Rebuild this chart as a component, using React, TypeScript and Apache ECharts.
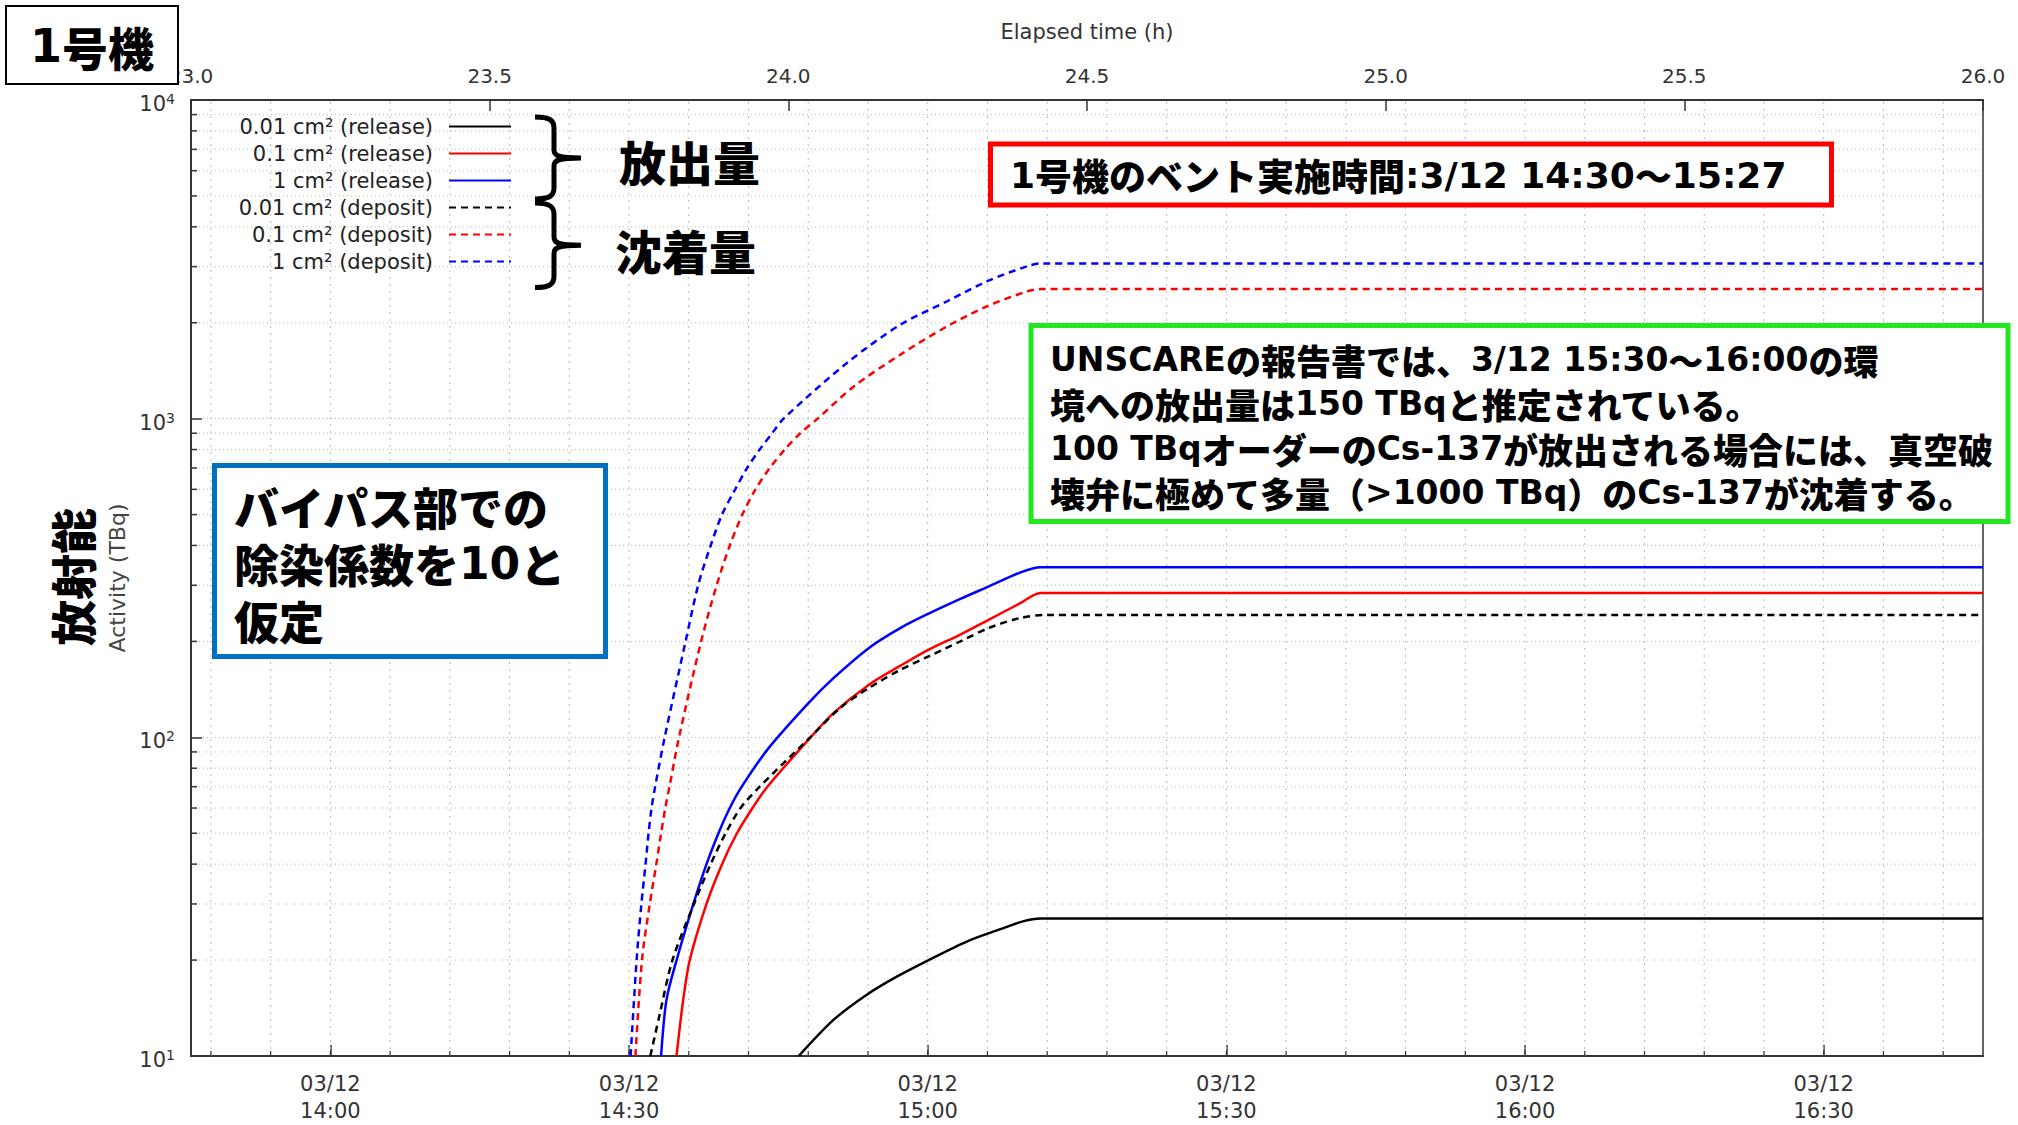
import React, { useEffect, useRef } from 'react';
import * as echarts from 'echarts';

// x values: elapsed time in hours since 2011-03-11 14:46 ; y values: activity (TBq)
const seriesNames = [
  '0.01 cm² (release)',
  '0.1 cm² (release)',
  '1 cm² (release)',
  '0.01 cm² (deposit)',
  '0.1 cm² (deposit)',
  '1 cm² (deposit)',
];
const seriesColors = ['#000000', '#ff0000', '#0000ff', '#000000', '#ff0000', '#0000ff'];
const seriesDashed = [false, false, false, true, true, true];

const release001 = [
  [24.0175, 10], [24.076, 13.0], [24.132, 15.6], [24.183, 17.8], [24.235, 20], [24.2995, 22.9],
  [24.355, 25], [24.394, 26.5], [24.422, 27], [26.0, 27],
];
const release01 = [
  [23.8128, 10], [23.824, 15], [23.835, 20], [23.863, 30], [23.889, 40], [23.914, 50], [23.94, 60],
  [23.965, 70], [24.034, 98.4], [24.076, 119.3], [24.135, 146.3], [24.188, 167.9], [24.235, 188.5],
  [24.288, 210.1], [24.336, 234.1], [24.389, 264.1], [24.422, 284], [26.0, 284],
];
const release1 = [
  [23.787, 10], [23.796, 15], [23.813, 20], [23.841, 30], [23.863, 40], [23.883, 50], [23.902, 60],
  [23.922, 70], [23.965, 91.5], [24.034, 128.2], [24.076, 153.6], [24.135, 190.8], [24.188, 220.5],
  [24.235, 244.5], [24.288, 271.9], [24.336, 297.8], [24.389, 329.5], [24.422, 342], [26.0, 342],
];
const deposit001 = [
  [23.769, 10], [23.785, 13.6], [23.806, 20], [23.842, 30], [23.87, 40], [23.895, 50], [23.92, 60],
  [23.952, 70], [24.034, 98.9], [24.087, 123.7], [24.135, 142.9], [24.188, 163.1], [24.235, 179.6],
  [24.288, 200], [24.336, 220.5], [24.389, 237], [24.431, 242], [26.0, 242],
];
const deposit01 = [
  [23.744, 10], [23.755, 20], [23.768, 30], [23.779, 40], [23.787, 50], [23.794, 60], [23.801, 70],
  [23.817, 100], [23.854, 200], [23.88, 300], [23.902, 400], [23.923, 500], [23.945, 600], [23.969, 700],
  [23.994, 800], [24.02, 900], [24.049, 1000], [24.11, 1264], [24.188, 1590], [24.266, 1950],
  [24.333, 2253], [24.4, 2510], [24.422, 2550], [26.0, 2550],
];
const deposit1 = [
  [23.736, 10], [23.746, 20], [23.754, 30], [23.761, 40], [23.766, 50], [23.771, 60], [23.777, 70],
  [23.793, 100], [23.828, 200], [23.849, 300], [23.87, 400], [23.889, 500], [23.911, 600], [23.931, 700],
  [23.952, 800], [23.973, 900], [23.992, 1000], [24.099, 1500], [24.188, 1974], [24.266, 2336],
  [24.333, 2700], [24.4, 3009], [24.422, 3070], [26.0, 3070],
];
const seriesData = [release001, release01, release1, deposit001, deposit01, deposit1];

// axes
const elapsedMin = 23;
const elapsedMax = 26;
const clockMin = 826; // 3/12 13:46 in minutes of day (= elapsed 23.0 h)
const clockMax = 1006; // 3/12 16:46
const dateLabel = '03/12';
const majorTimes = ['14:00', '14:30', '15:00', '15:30', '16:00', '16:30'];
const minorTickStart = 828; // 13:48
const minorTickStep = 6; // minutes
const minorTickCount = 30;
const yMin = 10;
const yMax = 10000;
const decades = [10, 100, 1000];
const minorSteps = [2, 3, 4, 5, 6, 7, 8, 9];

const toMinutes = (t: string) => {
  const [h, m] = t.split(':').map(Number);
  return h * 60 + m;
};
const majorTicks = majorTimes.map(toMinutes);
const minorTicks = Array.from({ length: minorTickCount }, (_, i) => minorTickStart + i * minorTickStep);
const minorLevels = decades.flatMap((d) => minorSteps.map((m) => d * m));

// annotation texts
const unitLabel = '1号機';
const releaseLabel = '放出量';
const depositLabel = '沈着量';
const ventText = '1号機のベント実施時間:3/12 14:30～15:27';
const unscearLines = [
  'UNSCAREの報告書では、3/12 15:30～16:00の環',
  '境への放出量は150 TBqと推定されている。',
  '100 TBqオーダーのCs-137が放出される場合には、真空破',
  '壊弁に極めて多量（>1000 TBq）のCs-137が沈着する。',
];
const bypassLines = ['バイパス部での', '除染係数を10と', '仮定'];
const activityJa = '放射能';

const braceD =
  'M0,1 C14,1 19,4 19,12 L19,34 C19,40 24,42 46,42 M46,42 C24,42 19,44 19,50 L19,72 C19,80 14,83 0,83';
echarts.graphic.registerShape('brace', echarts.graphic.extendPath(braceD, {}));

const LATIN = '"DejaVu Sans", sans-serif';
const CJK = '"Noto Sans CJK JP", sans-serif';

const pad2 = (n: number) => (n < 10 ? '0' + n : '' + n);

// split into latin / cjk runs for rich text
function richRuns(s: string) {
  let out = '';
  let cur = '';
  let curLatin: boolean | null = null;
  for (const ch of s) {
    const latin = ch.charCodeAt(0) < 128;
    if (curLatin !== null && latin !== curLatin) {
      out += `{${curLatin ? 'l' : 'c'}|${cur}}`;
      cur = '';
    }
    cur += ch;
    curLatin = latin;
  }
  if (cur) out += `{${curLatin ? 'l' : 'c'}|${cur}}`;
  return out;
}

function jpText(x: number, y: number, text: string, size: number, latinSize: number, lh: number, extra: any = {}) {
  return {
    type: 'text',
    x,
    y,
    z: 20,
    style: {
      text: richRuns(text),
      fill: '#000',
      align: 'left',
      verticalAlign: 'middle',
      textAlign: 'left',
      textVerticalAlign: 'middle',
      rich: {
        c: { fontSize: size, fontFamily: CJK, fontWeight: 900, fill: '#000', lineHeight: lh },
        l: { fontSize: latinSize, fontFamily: LATIN, fontWeight: 'bold', fill: '#000', lineHeight: lh },
      },
      ...extra,
    },
  };
}

function buildOption(): any {
  const lineSeries = seriesNames.map((name, i) => ({
    name,
    type: 'line',
    xAxisIndex: 1,
    yAxisIndex: 0,
    data: seriesData[i],
    symbol: 'none',
    smooth: 0.3,
    z: 3,
    lineStyle: {
      color: seriesColors[i],
      width: 2.5,
      type: seriesDashed[i] ? [7, 5] : 'solid',
    },
    itemStyle: { color: seriesColors[i] },
  }));

  const hGrid = {
    type: 'custom',
    xAxisIndex: 1,
    yAxisIndex: 0,
    silent: true,
    z: 1,
    data: minorLevels.map((v) => [elapsedMin, v]),
    encode: { x: 0, y: 1 },
    renderItem: (params: any, api: any) => {
      const v = api.value(1);
      const a = api.coord([elapsedMin, v]);
      const b = api.coord([elapsedMax, v]);
      return {
        type: 'group',
        children: [
          {
            type: 'line',
            shape: { x1: a[0], y1: a[1], x2: b[0], y2: b[1] },
            style: { stroke: '#b8b8b8', lineWidth: 1, lineDash: [1, 3] },
          },
          {
            type: 'line',
            shape: { x1: a[0], y1: a[1], x2: a[0] + 6, y2: a[1] },
            style: { stroke: '#333', lineWidth: 1.5 },
          },
        ],
      };
    },
  };

  const vGrid = {
    type: 'custom',
    xAxisIndex: 0,
    yAxisIndex: 0,
    silent: true,
    z: 1,
    data: minorTicks.map((t) => [t, yMin]),
    encode: { x: 0, y: 1 },
    renderItem: (params: any, api: any) => {
      const t = api.value(0);
      const a = api.coord([t, yMin]);
      const b = api.coord([t, yMax]);
      return {
        type: 'group',
        children: [
          {
            type: 'line',
            shape: { x1: a[0], y1: a[1], x2: b[0], y2: b[1] },
            style: { stroke: '#b8b8b8', lineWidth: 1, lineDash: [2, 5] },
          },
          {
            type: 'line',
            shape: { x1: a[0], y1: a[1], x2: a[0], y2: a[1] - 5 },
            style: { stroke: '#333', lineWidth: 1.2 },
          },
        ],
      };
    },
  };

  const graphic: any[] = [
    // unit box
    {
      type: 'rect',
      z: 18,
      shape: { x: 6, y: 6, width: 172, height: 78 },
      style: { fill: '#fff', stroke: '#000', lineWidth: 2 },
    },
    jpText(92, 46, unitLabel, 46, 46, 56, { align: 'center', textAlign: 'center' }),
    // braces
    { type: 'brace', x: 535, y: 116, z: 20, style: { fill: 'none', stroke: '#000', lineWidth: 5 } },
    { type: 'brace', x: 535, y: 202, z: 20, scaleY: 1.03, style: { fill: 'none', stroke: '#000', lineWidth: 5, strokeNoScale: true } },
    jpText(619, 160, releaseLabel, 47, 47, 56),
    jpText(615, 249, depositLabel, 47, 47, 56),
    // vent box
    {
      type: 'rect',
      z: 18,
      shape: { x: 990.5, y: 144, width: 841, height: 61 },
      style: { fill: '#fff', stroke: '#ff0000', lineWidth: 5 },
    },
    jpText(1010, 175, ventText, 37, 36, 44),
    // UNSCEAR box
    {
      type: 'rect',
      z: 18,
      shape: { x: 1031, y: 325.5, width: 977, height: 196 },
      style: { fill: '#fff', stroke: '#22e622', lineWidth: 5 },
    },
    ...unscearLines.map((l, i) => jpText(1050, 359 + i * 44.5, l, 35, 33, 40)),
    // bypass box
    {
      type: 'rect',
      z: 18,
      shape: { x: 214.5, y: 465.5, width: 391, height: 191 },
      style: { fill: '#fff', stroke: '#0070c0', lineWidth: 5 },
    },
    ...bypassLines.map((l, i) => jpText(234, 506 + i * 57, l, 45, 44, 52)),
    // vertical axis title (Japanese)
    {
      type: 'text',
      x: 71,
      y: 577,
      rotation: Math.PI / 2,
      z: 20,
      style: {
        text: activityJa,
        font: `900 46px ${CJK}`,
        fill: '#000',
        align: 'center',
        verticalAlign: 'middle',
        textAlign: 'center',
        textVerticalAlign: 'middle',
      },
    },
  ];

  const axisLineStyle = { show: true, lineStyle: { color: '#333', width: 2 } };

  return {
    animation: false,
    backgroundColor: '#ffffff',
    grid: {
      left: 191,
      right: 35,
      top: 100,
      bottom: 69,
      containLabel: false,
      show: true,
      borderColor: '#333',
      borderWidth: 1.5,
      backgroundColor: 'transparent',
    },
    legend: {
      data: seriesNames,
      orient: 'vertical',
      align: 'right',
      right: 1506,
      top: 116,
      padding: 0,
      itemWidth: 62,
      itemHeight: 14,
      itemGap: 6,
      z: 10,
      itemStyle: { opacity: 0, color: 'rgba(0,0,0,0)', borderWidth: 0 },
      textStyle: {
        fontSize: 21,
        fontFamily: LATIN,
        color: '#222',
        padding: [0, 11, 0, 0],
      },
    },
    xAxis: [
      {
        type: 'value',
        position: 'bottom',
        min: clockMin,
        max: clockMax,
        axisLine: axisLineStyle,
        axisTick: {
          show: true,
          inside: true,
          length: 11,
          customValues: majorTicks,
          lineStyle: { color: '#333', width: 1.5 },
        },
        axisLabel: {
          customValues: majorTicks,
          margin: 14,
          color: '#333',
          fontSize: 21,
          lineHeight: 27,
          fontFamily: LATIN,
          formatter: (v: number) => `${dateLabel}\n${pad2(Math.floor(v / 60))}:${pad2(v % 60)}`,
        },
        splitLine: { show: false },
      },
      {
        type: 'value',
        position: 'top',
        min: elapsedMin,
        max: elapsedMax,
        interval: 0.5,
        name: 'Elapsed time (h)',
        nameLocation: 'middle',
        nameGap: 58,
        nameTextStyle: { fontSize: 21, color: '#333', fontFamily: LATIN },
        axisLine: axisLineStyle,
        axisTick: { show: true, inside: true, length: 11, lineStyle: { color: '#333', width: 1.5 } },
        axisLabel: {
          margin: 14,
          color: '#333',
          fontSize: 20,
          fontFamily: LATIN,
          formatter: (v: number) => v.toFixed(1),
        },
        splitLine: { show: false },
      },
    ],
    yAxis: [
      {
        type: 'log',
        logBase: 10,
        min: yMin,
        max: yMax,
        position: 'left',
        name: 'Activity (TBq)',
        nameLocation: 'middle',
        nameGap: 58,
        nameTextStyle: { fontSize: 22, color: '#444', fontFamily: LATIN },
        axisLine: axisLineStyle,
        axisTick: { show: true, inside: true, length: 11, lineStyle: { color: '#333', width: 1.5 } },
        axisLabel: {
          margin: 16,
          padding: [8, 0, 0, 0],
          formatter: (v: number) => `{b|10}{s|${Math.round(Math.log10(v))}}`,
          rich: {
            b: { fontSize: 21, fontFamily: LATIN, color: '#333', lineHeight: 24 },
            s: { fontSize: 14, fontFamily: LATIN, color: '#333', verticalAlign: 'top' },
          },
        },
        splitLine: { show: true, lineStyle: { color: '#b8b8b8', width: 1, type: [1, 3] } },
      },
    ],
    series: [hGrid, vGrid, ...lineSeries],
    graphic,
  };
}

export default function App() {
  const ref = useRef<HTMLDivElement>(null);
  useEffect(() => {
    document.body.style.margin = '0';
    document.body.style.overflow = 'hidden';
    const chart = echarts.init(ref.current!, undefined, { renderer: 'svg' });
    chart.setOption(buildOption());
    return () => chart.dispose();
  }, []);
  return <div ref={ref} style={{ width: 2018, height: 1125, background: '#fff' }} />;
}
